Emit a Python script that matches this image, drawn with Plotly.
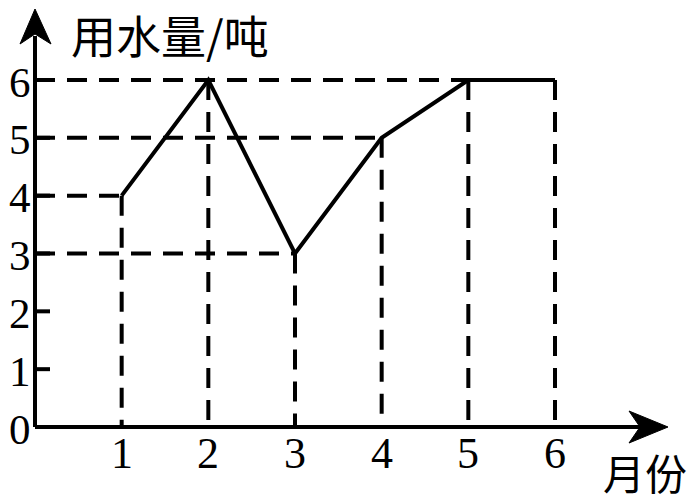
import plotly.graph_objects as go

# data
months = [1, 2, 3, 4, 5, 6]
water = [4, 6, 3, 5, 6, 6]
y_ticks = [0, 1, 2, 3, 4, 5, 6]
x_ticks = [1, 2, 3, 4, 5, 6]
# how far each horizontal guide runs to the right (in months)
h_guides = {6: 6, 5: 4, 4: 1, 3: 3}

# the page puts the figure 8px in from the window corner
PAD = 8
W, H = 698 - PAD, 500 - PAD
# pixel placement (window pixels) of the origin and unit sizes
ox, oy = 35 - PAD, 427 - PAD
ux = (555 - 35) / 6.0
uy = (427 - 80) / 6.0
xr = [-ox / ux, (W - ox) / ux]
yr = [-(H - oy) / uy, oy / uy]

def px2x(p):
    return (p - PAD - ox) / ux

def px2y(p):
    return (oy - (p - PAD)) / uy

DASH = "20px,12px"
fig = go.Figure()

# dashed guides
for yv, xend in h_guides.items():
    fig.add_trace(go.Scatter(x=[0, xend], y=[yv, yv], mode="lines",
                             line=dict(color="black", width=4, dash=DASH)))
for xv, yv in zip(months, water):
    fig.add_trace(go.Scatter(x=[xv, xv], y=[yv, 0], mode="lines",
                             line=dict(color="black", width=4, dash=DASH)))

# the data line
fig.add_trace(go.Scatter(x=months, y=water, mode="lines",
                         line=dict(color="black", width=4)))

# axes
fig.add_shape(type="line", x0=0, y0=0, x1=px2x(640), y1=0,
              line=dict(color="black", width=4))
fig.add_shape(type="line", x0=0, y0=0, x1=0, y1=px2y(36),
              line=dict(color="black", width=4))
# arrow heads
fig.add_trace(go.Scatter(x=[px2x(629), px2x(668), px2x(629), px2x(640), px2x(629)],
                         y=[px2y(411), px2y(427), px2y(443), px2y(427), px2y(411)],
                         mode="lines", fill="toself", fillcolor="black",
                         line=dict(color="black", width=1)))
fig.add_trace(go.Scatter(x=[px2x(20), px2x(35), px2x(51), px2x(35), px2x(20)],
                         y=[px2y(44), px2y(9), px2y(44), px2y(34), px2y(44)],
                         mode="lines", fill="toself", fillcolor="black",
                         line=dict(color="black", width=1)))

# y tick marks
for t in y_ticks[1:]:
    fig.add_shape(type="line", x0=0, y0=t, x1=px2x(50), y1=t,
                  line=dict(color="black", width=4))

# tick labels
for t in y_ticks:
    fig.add_annotation(x=0, y=t, text=str(t), showarrow=False, xshift=-15, yshift=-2,
                       font=dict(family="Liberation Serif", size=43, color="black"))
for t in x_ticks:
    fig.add_annotation(x=t, y=0, text=str(t), showarrow=False, yshift=-26,
                       font=dict(family="Liberation Serif", size=44, color="black"))

# axis titles
fig.add_annotation(x=px2x(170), y=px2y(34), text="用水量/吨", showarrow=False,
                   font=dict(family="Noto Sans CJK SC", size=45, color="black"))
fig.add_annotation(x=px2x(645), y=px2y(471), text="月份", showarrow=False,
                   font=dict(family="Noto Sans CJK SC", size=42, color="black"))

fig.update_xaxes(range=xr, visible=False)
fig.update_yaxes(range=yr, visible=False)
fig.update_layout(width=W, height=H, margin=dict(l=0, r=0, t=0, b=0),
                  showlegend=False, plot_bgcolor="white", paper_bgcolor="white")

fig.write_html("out.html")
